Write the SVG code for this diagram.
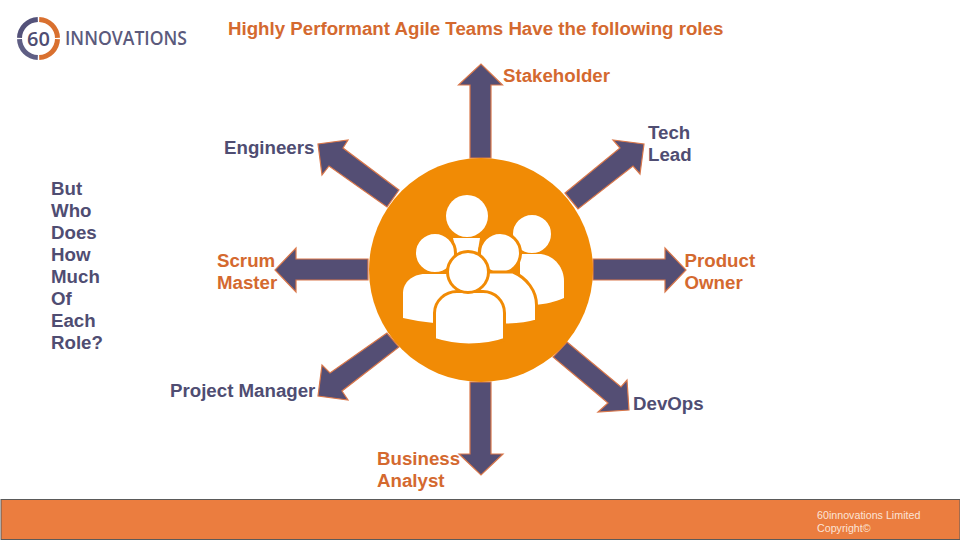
<svg xmlns="http://www.w3.org/2000/svg" width="960" height="540" viewBox="0 0 960 540">
<style>
text{font-family:"Liberation Sans",Arial,sans-serif;font-weight:700;font-size:18.7px}
.o{fill:#d4692f}
.p{fill:#4f4d72}
.a{fill:#544e74;stroke:#d9774a;stroke-width:1.2}
.k{fill:#fff;stroke:#f18b05;stroke-width:3}
.ring{fill:none;stroke-width:5}
.logo{font-family:"Open Sans",sans-serif;font-weight:600}
</style>
<rect width="960" height="540" fill="#fff"/>
<g id="logo">
<path class="ring" stroke="#54527a" d="M37.800 19.500A19 19 0 0 0 19.500 37.800"/>
<path class="ring" stroke="#5f5e84" d="M19.500 39.200A19 19 0 0 0 37.800 57.500"/>
<path class="ring" stroke="#d9702f" d="M39.200 19.500A19 19 0 0 1 57.500 37.800"/>
<path class="ring" stroke="#d9702f" d="M57.500 39.200A19 19 0 0 1 39.200 57.500"/>
<text class="logo" x="38.500" y="46" text-anchor="middle" style="font-size:20px;fill:#4f4d72">60</text>
<text class="logo" x="65" y="45" textLength="122" lengthAdjust="spacingAndGlyphs" style="font-size:19.500px;fill:#5b5a7c">INNOVATIONS</text>
</g>
<text id="title" class="o" x="228" y="35">Highly Performant Agile Teams Have the following roles</text>
<g id="connectors">
<polygon class="a" points="470,158 470,85 458.500,85 481,64 502.500,85 491,85 491,158"/>
<polygon class="a" points="565,193 620,148 613,140 644,144 640,174 633,166 578,209"/>
<polygon class="a" points="593,259 665,259 665,248 686,270 665,292 665,280 593,280"/>
<polygon class="a" points="567,342 621,387 627,380 629,410 598,412 608,403 553,357"/>
<polygon class="a" points="470,382 470,454 459,454 481,475 503,454 491,454 491,382"/>
<polygon class="a" points="387,333 330,373 322,365 318,396 348,400 342,391 399,347"/>
<polygon class="a" points="368,259 296,259 296,248 275,270 296,292 296,280 368,280"/>
<polygon class="a" points="399,190 343,148 348,140 318,144 322,175 329,166 387,207"/>
</g>
<g id="hub">
<circle cx="481" cy="270" r="112" fill="#f18b05"/>
<circle cx="467" cy="216" r="21" fill="#fff"/>
<path d="M453 238H480L477 256H457Z" fill="#fff"/>
<circle class="k" cx="532" cy="234" r="20.500"/>
<path d="M520 254H541C555 256 564 268 564 281V298C554 302 546 304 535 305L520 290Z" fill="#fff"/>
<circle class="k" cx="435" cy="253" r="20.500"/>
<path d="M425 274H449C458 280 460 290 460 300L434 323C423 322 413 320 403 318V293C403 283 412 274 425 274Z" fill="#fff"/>
<circle class="k" cx="500" cy="253" r="20.500"/>
<path class="k" d="M488 272H513C527 278 536.500 291 536.500 305V321C527 324 517 325 503 325L470 290Z"/>
<path class="k" d="M434.500 339.500V313C434.500 301 445 291.500 457 291.500H483C495 291.500 504.500 301 504.500 313V339.500C493 344 481 345 469 345C457 345 445 343 434.500 339.500Z"/>
<circle class="k" cx="468" cy="272" r="20.500"/>
</g>
<g id="engineers"><text class="p" x="224" y="154">Engineers</text></g>
<g id="stakeholder"><text class="o" x="503" y="82">Stakeholder</text></g>
<g id="tech-lead"><text class="p"><tspan x="648" y="139">Tech</tspan><tspan x="648" y="161">Lead</tspan></text></g>
<g id="scrum-master"><text class="o"><tspan x="217" y="267">Scrum</tspan><tspan x="217" y="289">Master</tspan></text></g>
<g id="product-owner"><text class="o"><tspan x="684.500" y="267">Product</tspan><tspan x="684.500" y="289">Owner</tspan></text></g>
<g id="project-manager"><text class="p" x="170" y="397">Project Manager</text></g>
<g id="devops"><text class="p" x="633" y="409.500">DevOps</text></g>
<g id="business-analyst"><text class="o"><tspan x="377" y="465">Business</tspan><tspan x="377" y="487">Analyst</tspan></text></g>
<g id="question"><text class="p"><tspan x="51" y="194.500">But</tspan><tspan x="51" y="216.500">Who</tspan><tspan x="51" y="238.500">Does</tspan><tspan x="51" y="260.500">How</tspan><tspan x="51" y="282.500">Much</tspan><tspan x="51" y="304.500">Of</tspan><tspan x="51" y="326.500">Each</tspan><tspan x="51" y="348.500">Role?</tspan></text></g>
<g id="footer">
<rect x="1" y="499.500" width="959" height="40" fill="#eb7d3f" stroke="#5a5a5a"/>
<text x="817" y="519" style="font-weight:400;font-size:10.700px;fill:#fbe3d6">60innovations Limited</text>
<text x="817" y="532" style="font-weight:400;font-size:10.700px;fill:#fbe3d6">Copyright©</text>
</g>
</svg>
